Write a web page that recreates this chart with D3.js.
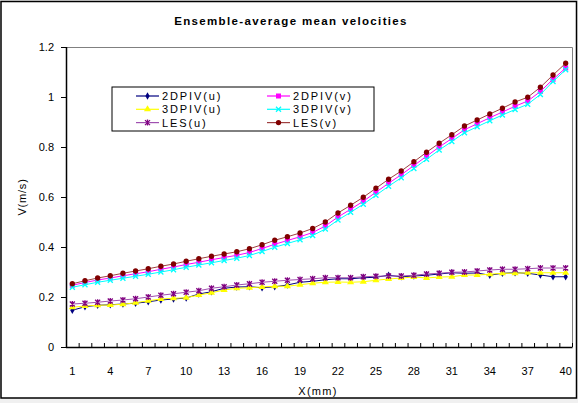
<!DOCTYPE html>
<html>
<head>
<meta charset="utf-8">
<script src="https://cdn.jsdelivr.net/npm/d3@7"></script>
<style>
  body { margin: 0; background: #f0f0f0; }
  svg { display: block; font-family: "Liberation Sans", Arial, sans-serif; }
</style>
</head>
<body>
<div id="chart"></div>
<script>
// positions 1..40 along the x axis
const xCats = d3.range(1, 41);
const xTickLabels = [1, 4, 7, 10, 13, 16, 19, 22, 25, 28, 31, 34, 37, 40];
const yTicks = [0, 0.2, 0.4, 0.6, 0.8, 1, 1.2];

const piv2u = [0.147, 0.161, 0.167, 0.169, 0.172, 0.175, 0.181, 0.188, 0.192, 0.196,
               0.212, 0.221, 0.235, 0.240, 0.241, 0.237, 0.241, 0.248, 0.259, 0.263,
               0.269, 0.273, 0.273, 0.277, 0.279, 0.287, 0.281, 0.284, 0.287, 0.292,
               0.297, 0.295, 0.296, 0.287, 0.295, 0.297, 0.295, 0.288, 0.281, 0.281];
const piv2v = [0.247, 0.258, 0.268, 0.276, 0.285, 0.293, 0.301, 0.311, 0.320, 0.330,
               0.339, 0.349, 0.358, 0.367, 0.378, 0.394, 0.411, 0.426, 0.441, 0.458,
               0.484, 0.520, 0.551, 0.583, 0.619, 0.655, 0.689, 0.726, 0.763, 0.800,
               0.834, 0.869, 0.893, 0.917, 0.940, 0.963, 0.984, 1.022, 1.071, 1.116];
const piv3u = [0.159, 0.164, 0.167, 0.168, 0.171, 0.177, 0.185, 0.192, 0.195, 0.197,
               0.208, 0.217, 0.228, 0.235, 0.237, 0.240, 0.243, 0.243, 0.249, 0.255,
               0.259, 0.260, 0.259, 0.261, 0.267, 0.272, 0.276, 0.280, 0.276, 0.280,
               0.281, 0.288, 0.288, 0.291, 0.295, 0.295, 0.297, 0.297, 0.297, 0.297];
const piv3v = [0.239, 0.249, 0.259, 0.267, 0.275, 0.283, 0.291, 0.300, 0.309, 0.319,
               0.328, 0.337, 0.346, 0.355, 0.366, 0.382, 0.399, 0.414, 0.429, 0.446,
               0.472, 0.508, 0.539, 0.571, 0.607, 0.643, 0.677, 0.714, 0.751, 0.788,
               0.822, 0.857, 0.881, 0.905, 0.928, 0.950, 0.971, 1.010, 1.062, 1.109];
const lesu = [0.172, 0.175, 0.179, 0.184, 0.188, 0.193, 0.200, 0.207, 0.213, 0.219,
              0.225, 0.235, 0.241, 0.248, 0.253, 0.259, 0.263, 0.267, 0.270, 0.273,
              0.277, 0.277, 0.277, 0.281, 0.283, 0.284, 0.284, 0.287, 0.292, 0.295,
              0.299, 0.300, 0.304, 0.308, 0.311, 0.311, 0.313, 0.316, 0.316, 0.316];
const lesv = [0.253, 0.265, 0.276, 0.285, 0.295, 0.304, 0.313, 0.323, 0.332, 0.343,
              0.353, 0.363, 0.372, 0.381, 0.393, 0.409, 0.427, 0.441, 0.456, 0.474,
              0.500, 0.536, 0.567, 0.599, 0.635, 0.671, 0.704, 0.741, 0.779, 0.815,
              0.849, 0.884, 0.908, 0.932, 0.955, 0.980, 0.999, 1.039, 1.088, 1.135];

const series = [
  { name: "2DPIV(u)", values: piv2u, color: "#000080", line: "#000080", marker: "diamond" },
  { name: "2DPIV(v)", values: piv2v, color: "#ff00ff", line: "#ff00ff", marker: "square" },
  { name: "3DPIV(u)", values: piv3u, color: "#ffff00", line: "#ffff00", marker: "triangle" },
  { name: "3DPIV(v)", values: piv3v, color: "#00ffff", line: "#00ffff", marker: "x" },
  { name: "LES(u)", values: lesu, color: "#800080", line: "#a050b0", marker: "star" },
  { name: "LES(v)", values: lesv, color: "#800000", line: "#a04040", marker: "circle" }
];

const width = 578, height = 403;
const plot = { left: 66, right: 572, top: 47, bottom: 347 };

const svg = d3.select("#chart").append("svg")
  .attr("width", width)
  .attr("height", height);

// chart area
svg.append("rect")
  .attr("x", 1).attr("y", 1.5)
  .attr("width", 575.5).attr("height", 396.5)
  .attr("fill", "#fff")
  .attr("stroke", "#000")
  .attr("stroke-width", 1.5);

const x = d3.scaleBand().domain(xCats).range([plot.left, plot.right]).padding(0);
const xEdge = d3.scaleLinear().domain([0, 40]).range([plot.left, plot.right]);
const y = d3.scaleLinear().domain([0, 1.2]).range([plot.bottom, plot.top]);
const cx = d => x(d) + x.bandwidth() / 2;

// plot area border (gray top/right)
svg.append("path")
  .attr("d", `M${plot.left},${plot.top + 0.5}H${plot.right + 0.5}V${plot.bottom}`)
  .attr("fill", "none")
  .attr("stroke", "#808080")
  .attr("stroke-width", 1);

// title
svg.append("text")
  .attr("x", 291).attr("y", 25)
  .attr("text-anchor", "middle")
  .attr("font-size", 11.5)
  .attr("font-weight", "bold")
  .attr("letter-spacing", 1.35)
  .text("Ensemble-average mean velocities");

// y axis
const yAxis = svg.append("g")
  .attr("transform", `translate(${plot.left},0)`)
  .call(d3.axisLeft(y).tickValues(yTicks).tickSize(5).tickPadding(7)
    .tickFormat(d => String(+d.toFixed(1))));
yAxis.selectAll("text").attr("font-size", 11).attr("fill", "#000")
  .attr("font-family", "Liberation Sans, Arial, sans-serif");
yAxis.selectAll("line, path").attr("stroke", "#000");
yAxis.select(".domain").attr("d", `M0.5,${plot.top}V${plot.bottom}`).attr("stroke-width", 1.5);

// x axis: tick marks between categories, labels every 3rd
const xTicks = svg.append("g")
  .attr("transform", `translate(0,${plot.bottom})`)
  .call(d3.axisBottom(xEdge).tickValues(d3.range(0, 41)).tickSize(-4).tickFormat(""));
xTicks.selectAll("line").attr("stroke", "#000");
xTicks.select(".domain").attr("d", `M${plot.left},0.5H${plot.right + 0.5}`)
  .attr("stroke", "#000").attr("stroke-width", 1.5);

const xLabels = svg.append("g")
  .attr("transform", `translate(0,${plot.bottom})`)
  .call(d3.axisBottom(x).tickValues(xTickLabels).tickSize(0).tickPadding(20));
xLabels.select(".domain").remove();
xLabels.selectAll("text").attr("font-size", 11).attr("fill", "#000")
  .attr("font-family", "Liberation Sans, Arial, sans-serif");

// axis titles
svg.append("text")
  .attr("x", 318).attr("y", 395)
  .attr("text-anchor", "middle")
  .attr("font-size", 11)
  .attr("letter-spacing", 1.3)
  .text("X(mm)");

svg.append("text")
  .attr("transform", "translate(26,197) rotate(-90)")
  .attr("text-anchor", "middle")
  .attr("font-size", 11)
  .attr("letter-spacing", 0.8)
  .text("V(m/s)");

function drawMarker(g, type, color) {
  if (type === "diamond") {
    g.append("path").attr("d", d3.symbol(d3.symbolDiamond, 16)()).attr("fill", color);
  } else if (type === "square") {
    g.append("path").attr("d", d3.symbol(d3.symbolSquare, 25)()).attr("fill", color);
  } else if (type === "triangle") {
    g.append("path").attr("d", d3.symbol(d3.symbolTriangle, 22)()).attr("fill", color);
  } else if (type === "circle") {
    g.append("path").attr("d", d3.symbol(d3.symbolCircle, 22)()).attr("fill", color);
  } else if (type === "x") {
    g.append("path").attr("d", "M-2.5,-2.5L2.5,2.5M-2.5,2.5L2.5,-2.5")
      .attr("stroke", color).attr("stroke-width", 1.3).attr("fill", "none");
  } else if (type === "star") {
    g.append("path").attr("d", "M-2.5,-2.5L2.5,2.5M-2.5,2.5L2.5,-2.5M0,-3V3")
      .attr("stroke", color).attr("stroke-width", 1.3).attr("fill", "none");
  }
}

const line = d3.line().x((d, i) => cx(xCats[i])).y(d => y(d));

// draw series in order so LES(v) ends on top
series.forEach(s => {
  svg.append("path")
    .datum(s.values)
    .attr("fill", "none")
    .attr("stroke", s.line)
    .attr("stroke-width", 1)
    .attr("d", line);
  s.values.forEach((v, i) => {
    const g = svg.append("g").attr("transform", `translate(${cx(xCats[i])},${y(v)})`);
    drawMarker(g, s.marker, s.color);
  });
});

// legend
const legend = svg.append("g");
legend.append("rect")
  .attr("x", 112).attr("y", 87)
  .attr("width", 262).attr("height", 44)
  .attr("fill", "#fff")
  .attr("stroke", "#000")
  .attr("stroke-width", 1);

series.forEach((s, i) => {
  const col = i % 2, row = Math.floor(i / 2);
  const lx = col === 0 ? 136 : 267;
  const ly = 96 + row * 13.3;
  legend.append("line")
    .attr("x1", lx).attr("x2", lx + 23)
    .attr("y1", ly).attr("y2", ly)
    .attr("stroke", s.line).attr("stroke-width", 1.2);
  const g = legend.append("g").attr("transform", `translate(${lx + 11.5},${ly})`);
  drawMarker(g, s.marker, s.color);
  legend.append("text")
    .attr("x", lx + 26).attr("y", ly + 4)
    .attr("font-size", 11)
    .attr("letter-spacing", 1.9)
    .text(s.name);
});
</script>
</body>
</html>
